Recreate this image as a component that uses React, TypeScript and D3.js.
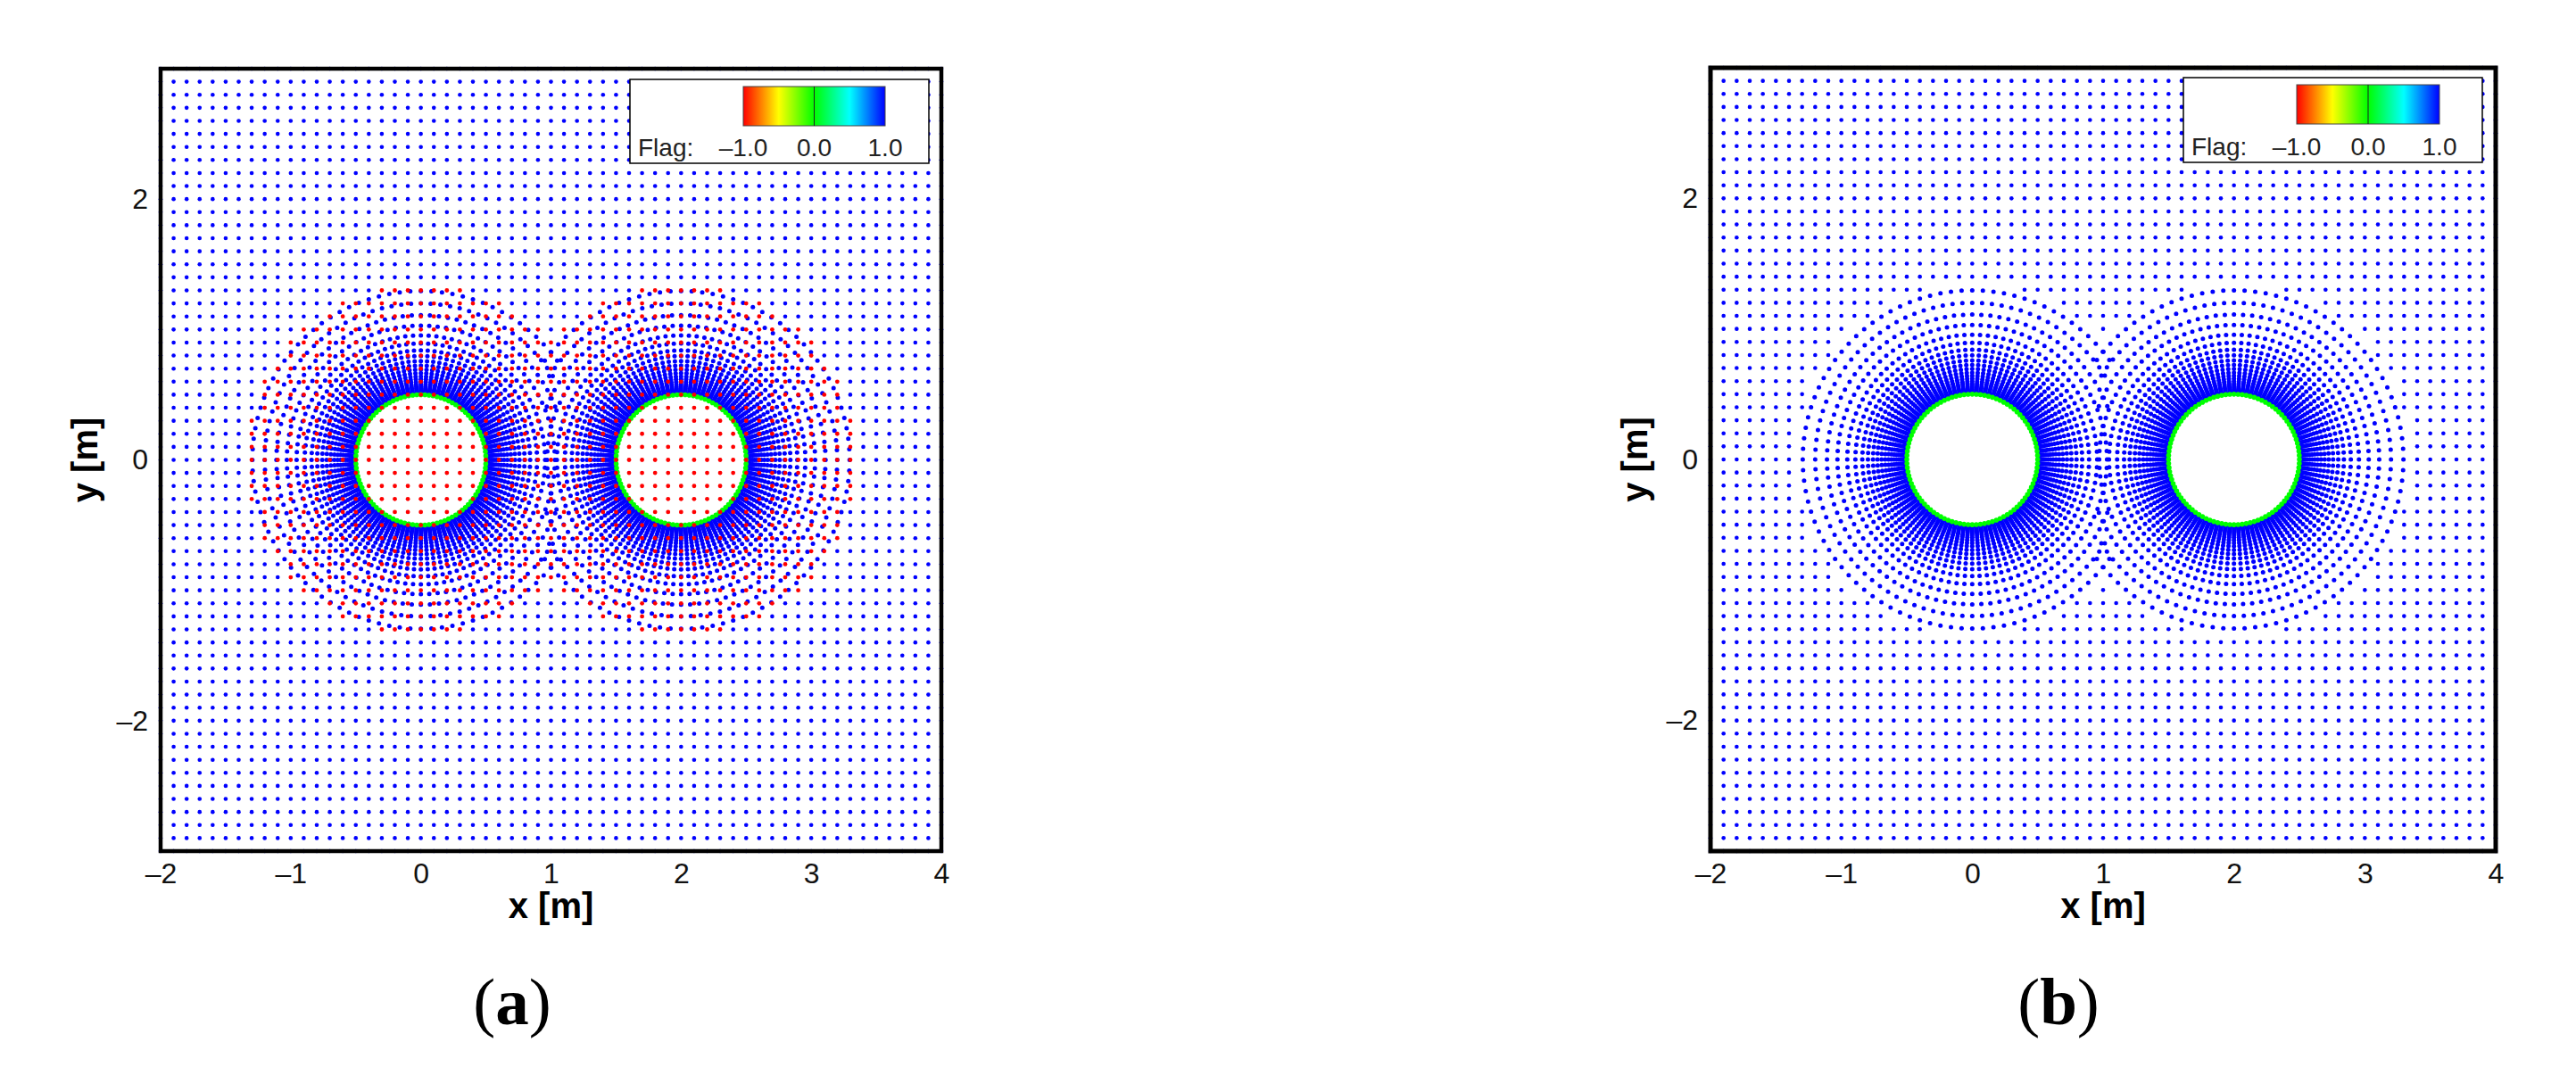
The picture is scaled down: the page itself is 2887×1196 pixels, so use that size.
import React, { useEffect, useRef } from "react"
import * as d3 from "d3"

// Background mesh columns and rows [m]
const gridX = [
  -2, -1.9, -1.8, -1.7, -1.6, -1.5, -1.4, -1.3, -1.2, -1.1, -1, -0.9, -0.8, -0.7, -0.6, -0.5, -0.4, -0.3, -0.2, -0.1,
  0, 0.1, 0.2, 0.3, 0.4, 0.5, 0.6, 0.7, 0.8, 0.9, 1, 1.1, 1.2, 1.3, 1.4, 1.5, 1.6, 1.7, 1.8, 1.9,
  2, 2.1, 2.2, 2.3, 2.4, 2.5, 2.6, 2.7, 2.8, 2.9, 3, 3.1, 3.2, 3.3, 3.4, 3.5, 3.6, 3.7, 3.8, 3.9, 4,
]
const gridY = [
  -3, -2.9, -2.8, -2.7, -2.6, -2.5, -2.4, -2.3, -2.2, -2.1, -2, -1.9, -1.8, -1.7, -1.6, -1.5, -1.4, -1.3, -1.2, -1.1,
  -1, -0.9, -0.8, -0.7, -0.6, -0.5, -0.4, -0.3, -0.2, -0.1, 0, 0.1, 0.2, 0.3, 0.4, 0.5, 0.6, 0.7, 0.8, 0.9,
  1, 1.1, 1.2, 1.3, 1.4, 1.5, 1.6, 1.7, 1.8, 1.9, 2, 2.1, 2.2, 2.3, 2.4, 2.5, 2.6, 2.7, 2.8, 2.9, 3,
]

// Body-fitted mesh around each cylinder
const cylinderCentres = [0, 2]
const ringRadii = [
  0.508, 0.517, 0.527, 0.538, 0.55, 0.564, 0.58, 0.598, 0.618, 0.64, 0.665, 0.693, 0.724, 0.758, 0.797, 0.84, 0.893,
  0.955, 1.03, 1.11, 1.2, 1.295,
]
const wallRadius = 0.5
const spokeAngles = [
  0, 3.6, 7.2, 10.8, 14.4, 18, 21.6, 25.2, 28.8, 32.4, 36, 39.6, 43.2, 46.8, 50.4, 54, 57.6, 61.2, 64.8, 68.4, 72, 75.6,
  79.2, 82.8, 86.4, 90, 93.6, 97.2, 100.8, 104.4, 108, 111.6, 115.2, 118.8, 122.4, 126, 129.6, 133.2, 136.8, 140.4,
  144, 147.6, 151.2, 154.8, 158.4, 162, 165.6, 169.2, 172.8, 176.4, 180, 183.6, 187.2, 190.8, 194.4, 198, 201.6, 205.2,
  208.8, 212.4, 216, 219.6, 223.2, 226.8, 230.4, 234, 237.6, 241.2, 244.8, 248.4, 252, 255.6, 259.2, 262.8, 266.4, 270,
  273.6, 277.2, 280.8, 284.4, 288, 291.6, 295.2, 298.8, 302.4, 306, 309.6, 313.2, 316.8, 320.4, 324, 327.6, 331.2,
  334.8, 338.4, 342, 345.6, 349.2, 352.8, 356.4,
]
const holeRadius = 1.35
const overlapMargin = 0.08

const xTicks = [-2, -1, 0, 1, 2, 3, 4]
const yTicks = [-2, 0, 2]
const flagStops = ["#ff0000", "#ffff00", "#00ff00", "#00ffff", "#0000ff"]

const panels = [
  {
    id: "a", letter: "a", showHole: true, left: 180, right: 1055, top: 77, bottom: 954, frame: 4.5, letterX: 574, letterY: 1148,
    legend: { x0: 706, x1: 1041, y0: 89, y1: 183, barX0: 833, barX1: 992, barY0: 97, barY1: 141, text: 175, flagX: 715 },
  },
  {
    id: "b", letter: "b", showHole: false, left: 1917, right: 2797, top: 76, bottom: 954, frame: 5, letterX: 2307, letterY: 1148,
    legend: { x0: 2447, x1: 2782, y0: 87, y1: 182, barX0: 2574, barX1: 2734, barY0: 95, barY1: 139, text: 174, flagX: 2456 },
  },
]

const dash = (v: number) => (v < 0 ? "\u2013" + Math.abs(v) : String(v))
const sans = "'Liberation Sans', Arial, sans-serif"

const App = () => {
  const ref = useRef<SVGSVGElement>(null)

  useEffect(() => {
    const svg = d3.select(ref.current)
    svg.selectAll("*").remove()

    const defs = svg.append("defs")
    const grad = defs.append("linearGradient").attr("id", "flagRamp")
    flagStops.forEach((c, i) => {
      grad.append("stop").attr("offset", i / (flagStops.length - 1)).attr("stop-color", c)
    })

    panels.forEach((p) => {
      const x = d3.scaleLinear().domain([-2, 4]).range([p.left, p.right])
      const y = d3.scaleLinear().domain([-3, 3]).range([p.bottom, p.top])
      const g = svg.append("g").attr("id", "panel-" + p.id)

      const background: { x: number; y: number; inside: boolean }[] = []
      gridX.forEach((gx) => {
        gridY.forEach((gy) => {
          const inside = cylinderCentres.some((c) => Math.hypot(gx - c, gy) < holeRadius)
          background.push({ x: gx, y: gy, inside })
        })
      })

      const rings: { x: number; y: number }[] = []
      cylinderCentres.forEach((c, i) => {
        const other = cylinderCentres[1 - i]
        ringRadii.forEach((r) => {
          spokeAngles.forEach((a) => {
            const px = c + r * Math.cos((a * Math.PI) / 180)
            const py = r * Math.sin((a * Math.PI) / 180)
            // drop points that sit deep in the neighbour's mesh
            if (r - Math.hypot(px - other, py) < overlapMargin) rings.push({ x: px, y: py })
          })
        })
      })

      const walls: { x: number; y: number }[] = []
      cylinderCentres.forEach((c) => {
        spokeAngles.forEach((a) => {
          walls.push({
            x: c + wallRadius * Math.cos((a * Math.PI) / 180),
            y: wallRadius * Math.sin((a * Math.PI) / 180),
          })
        })
      })

      const dots = (data: { x: number; y: number }[], color: string, r: number) => {
        g.append("g")
          .attr("fill", color)
          .selectAll("circle")
          .data(data)
          .enter()
          .append("circle")
          .attr("cx", (d) => x(d.x))
          .attr("cy", (d) => y(d.y))
          .attr("r", r)
      }

      dots(background.filter((d) => !d.inside), "#0000ff", 2.3)
      dots(rings, "#0000ff", 2.5)
      dots(walls, "#00ff00", 2.8)
      if (p.showHole) dots(background.filter((d) => d.inside), "#ff0000", 2.4)

      // Frame
      g.append("rect")
        .attr("x", p.left)
        .attr("y", p.top)
        .attr("width", p.right - p.left)
        .attr("height", p.bottom - p.top)
        .attr("fill", "none")
        .attr("stroke", "#000")
        .attr("stroke-width", p.frame)

      // Axes
      const xAxis = g
        .append("g")
        .attr("transform", "translate(0," + p.bottom + ")")
        .call(d3.axisBottom(x).tickValues(xTicks).tickSize(0).tickPadding(13).tickFormat((d) => dash(+d)))
      const yAxis = g
        .append("g")
        .attr("transform", "translate(" + p.left + ",0)")
        .call(d3.axisLeft(y).tickValues(yTicks).tickSize(0).tickPadding(14).tickFormat((d) => dash(+d)))
      ;[xAxis, yAxis].forEach((axis) => {
        axis.select(".domain").remove()
        axis.selectAll("text").attr("font-family", sans).attr("font-size", 32).attr("fill", "#111")
      })

      g.append("text")
        .attr("x", (x(1) + 0))
        .attr("y", 1029)
        .attr("text-anchor", "middle")
        .attr("font-family", sans)
        .attr("font-weight", 700)
        .attr("font-size", 40)
        .text("x [m]")
      g.append("text")
        .attr("transform", "translate(" + (p.left - 71) + "," + y(0) + ") rotate(-90)")
        .attr("text-anchor", "middle")
        .attr("font-family", sans)
        .attr("font-weight", 700)
        .attr("font-size", 40)
        .text("y [m]")

      // Contour legend
      const l = p.legend
      g.append("rect")
        .attr("x", l.x0)
        .attr("y", l.y0)
        .attr("width", l.x1 - l.x0)
        .attr("height", l.y1 - l.y0)
        .attr("fill", "#fff")
        .attr("stroke", "#000")
        .attr("stroke-width", 1.5)
      g.append("rect")
        .attr("x", l.barX0)
        .attr("y", l.barY0)
        .attr("width", l.barX1 - l.barX0)
        .attr("height", l.barY1 - l.barY0)
        .attr("fill", "url(#flagRamp)")
        .attr("stroke", "#444")
        .attr("stroke-width", 1)
      const flagScale = d3.scaleLinear().domain([-1, 1]).range([l.barX0, l.barX1])
      g.append("line")
        .attr("x1", flagScale(0))
        .attr("x2", flagScale(0))
        .attr("y1", l.barY0)
        .attr("y2", l.barY1)
        .attr("stroke", "#222")
        .attr("stroke-width", 1)
      const legendText = g.append("g").attr("font-family", sans).attr("font-size", 28).attr("fill", "#222")
      legendText.append("text").attr("x", l.flagX).attr("y", l.text).text("Flag:")
      ;[-1, 0, 1].forEach((v) => {
        legendText
          .append("text")
          .attr("x", flagScale(v))
          .attr("y", l.text)
          .attr("text-anchor", "middle")
          .text(v < 0 ? "\u20131.0" : v.toFixed(1))
      })

      // Panel letter
      const letter = g
        .append("text")
        .attr("x", p.letterX)
        .attr("y", p.letterY)
        .attr("text-anchor", "middle")
        .attr("font-family", "'Liberation Serif', 'Times New Roman', serif")
        .attr("font-size", 75)
      letter.append("tspan").text("(")
      letter.append("tspan").attr("font-weight", 700).text(p.letter)
      letter.append("tspan").text(")")
    })
  }, [])

  return (
    <svg
      ref={ref}
      width={2887}
      height={1196}
      viewBox="0 0 2887 1196"
      style={{ position: "absolute", left: 0, top: 0, background: "#fff" }}
    />
  )
}

export default App
